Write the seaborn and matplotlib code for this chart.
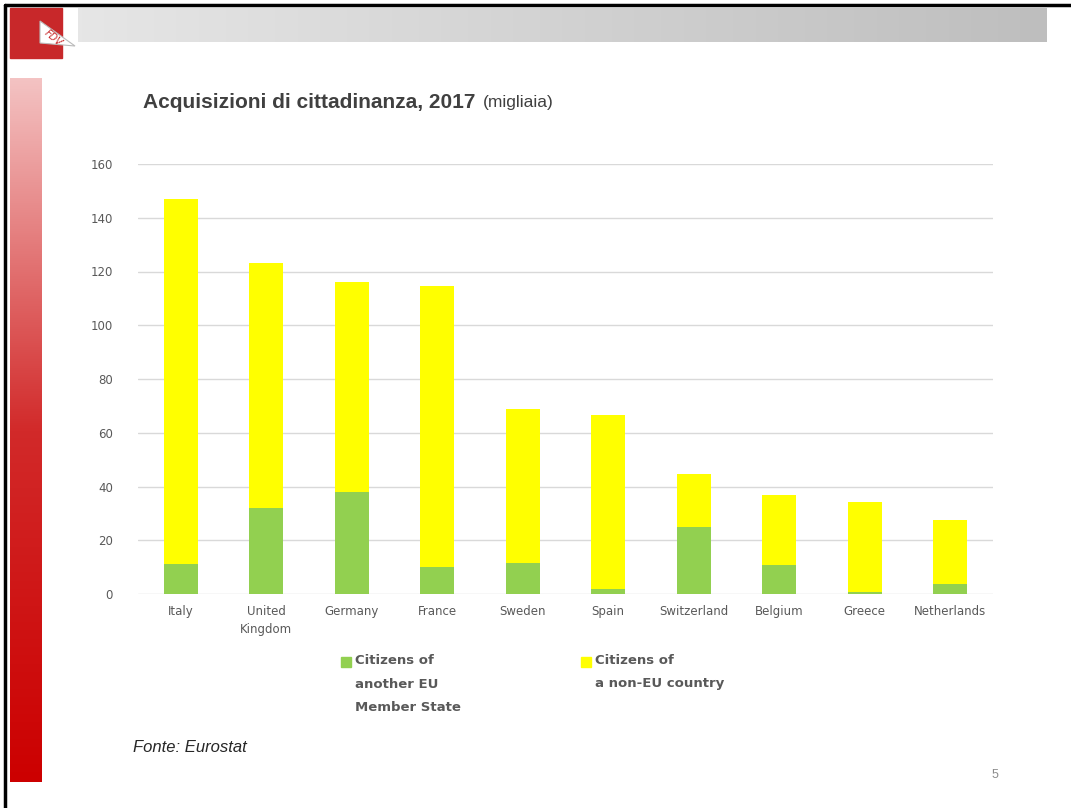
import numpy as np
import pandas as pd
import matplotlib
matplotlib.use("Agg")
import matplotlib.pyplot as plt
import matplotlib.patches as mpatches
import seaborn as sns

countries = ["Italy", "United\nKingdom", "Germany", "France", "Sweden", "Spain",
             "Switzerland", "Belgium", "Greece", "Netherlands"]
eu_citizens = [11, 32, 38, 10, 11.5, 2, 25, 10.7, 0.7, 3.6]
non_eu_citizens = [136, 91, 78, 104.5, 57.5, 64.5, 19.7, 26.3, 33.4, 23.9]
yticks = [0, 20, 40, 60, 80, 100, 120, 140, 160]
legend_labels = ["Citizens of\nanother EU\nMember State", "Citizens of\na non-EU country"]

GREEN = "#92D050"
YELLOW = "#FFFF00"

sns.set_theme(style="white")
plt.rcParams['font.family'] = ['DejaVu Sans']

W, H = 1071, 808
fig = plt.figure(figsize=(W / 100, H / 100), dpi=100)
fig.patch.set_facecolor("white")

def fx(x):
    return x / W

def fy(y):
    return 1 - y / H

df = pd.DataFrame({
    "country": countries,
    "eu": eu_citizens,
    "non_eu": non_eu_citizens,
})
df["total"] = df["eu"] + df["non_eu"]

ax = fig.add_axes([fx(138), fy(594), fx(993) - fx(138), fy(164) - fy(594)])
sns.barplot(data=df, x="country", y="total", color=YELLOW, width=0.4,
            saturation=1, ax=ax, zorder=3, linewidth=0)
sns.barplot(data=df, x="country", y="eu", color=GREEN, width=0.4,
            saturation=1, ax=ax, zorder=4, linewidth=0)
ax.set_ylim(0, 160)
ax.set_xlim(-0.5, len(countries) - 0.5)
ax.set_yticks(yticks)
ax.set_yticklabels([str(t) for t in yticks])
ax.yaxis.grid(True, color="#D9D9D9", linewidth=1, zorder=0)
ax.set_axisbelow(True)
for s in ax.spines.values():
    s.set_visible(False)
ax.tick_params(axis="both", length=0, labelsize=8.5, labelcolor="#595959", pad=8)
ax.tick_params(axis="y", pad=18)
ax.set_xlabel("")
ax.set_ylabel("")
for lbl in ax.get_xticklabels():
    lbl.set_linespacing(1.5)

# Legend
fig.add_artist(mpatches.Rectangle((fx(341), fy(667)), fx(10), fy(657) - fy(667),
                                  color=GREEN, transform=fig.transFigure))
fig.text(fx(355), fy(654), legend_labels[0], fontsize=9.5, fontweight="bold",
         color="#595959", va="top", ha="left", linespacing=2.05)
fig.add_artist(mpatches.Rectangle((fx(581), fy(667)), fx(10), fy(657) - fy(667),
                                  color=YELLOW, transform=fig.transFigure))
fig.text(fx(595), fy(654), legend_labels[1], fontsize=9.5, fontweight="bold",
         color="#595959", va="top", ha="left", linespacing=2.05)

# Title
fig.text(fx(143), fy(103), "Acquisizioni di cittadinanza, 2017", fontsize=15,
         fontweight="bold", color="#404040", va="center", ha="left",
         family="Liberation Sans")
fig.text(fx(483), fy(103), "(migliaia)", fontsize=12.5, color="#404040",
         va="center", ha="left", family="Liberation Sans")

# Source
fig.text(fx(133), fy(748), "Fonte: Eurostat", fontsize=12, style="italic",
         color="#262626", va="center", ha="left", family="Liberation Sans")
fig.text(fx(995), fy(775), "5", fontsize=9, color="#8C8C8C", va="center",
         ha="center", family="Liberation Sans")

# Decorations: top gray gradient bar
gax = fig.add_axes([fx(78), fy(42), fx(1047) - fx(78), fy(8) - fy(42)])
grad = np.linspace(0, 1, 256).reshape(1, -1)
gax.imshow(grad, aspect="auto", cmap=matplotlib.colors.LinearSegmentedColormap.from_list(
    "g", ["#E6E6E6", "#BEBEBE"]))
gax.axis("off")

# Left red gradient strip
lax = fig.add_axes([fx(10), fy(782), fx(42) - fx(10), fy(78) - fy(782)])
lgrad = np.linspace(0, 1, 256).reshape(-1, 1)
lax.imshow(lgrad, aspect="auto", cmap=matplotlib.colors.LinearSegmentedColormap.from_list(
    "r", ["#F4C3C3", "#D22A2A", "#CC0000"]))
lax.axis("off")

# Logo
fig.add_artist(mpatches.Rectangle((fx(10), fy(58)), fx(62) - fx(10), fy(8) - fy(58),
                                  color="#C8282A", transform=fig.transFigure))
tri = mpatches.Polygon([(fx(40), fy(21)), (fx(40), fy(43)), (fx(75), fy(46))],
                       closed=True, facecolor="white", edgecolor="#BBBBBB",
                       linewidth=0.8, transform=fig.transFigure)
fig.add_artist(tri)
fig.text(fx(53), fy(38), "FDV", fontsize=7, color="#C8282A", rotation=-40,
         ha="center", va="center", style="italic")

# Border lines
fig.add_artist(plt.Line2D([fx(5), fx(5)], [0, fy(5)], color="black", linewidth=2.5,
                          transform=fig.transFigure))
fig.add_artist(plt.Line2D([fx(5), 1], [fy(5), fy(5)], color="black", linewidth=2.5,
                          transform=fig.transFigure))

fig.savefig("out.png", dpi=100, facecolor="white")
